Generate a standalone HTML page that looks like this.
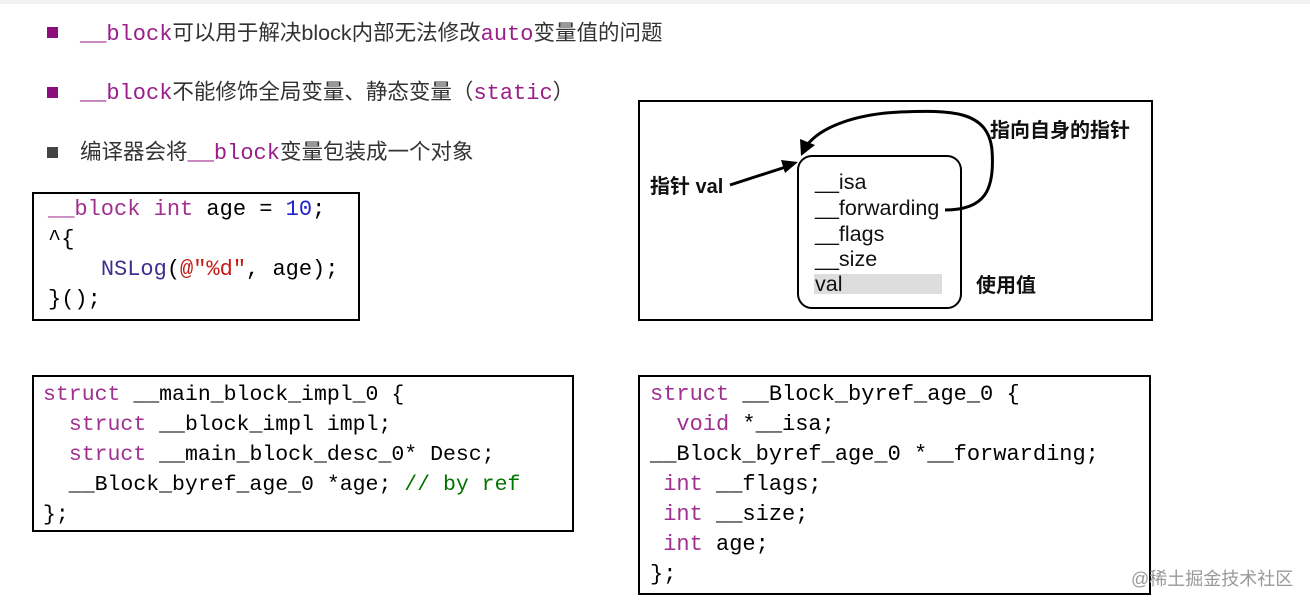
<!DOCTYPE html>
<html><head><meta charset="utf-8"><style>
body{margin:0;width:1310px;height:604px;background:#fff;position:relative;overflow:hidden;font-family:"Liberation Sans","Noto Sans CJK SC",sans-serif}
.b{position:absolute;left:47px;width:11px;height:11px;background:#8a0f7a}
.t{position:absolute;left:80px;font-size:21.5px;color:#333;white-space:nowrap;line-height:26px}
.m{font-family:"Liberation Mono",monospace;color:#9b1d8a;font-size:22px}
.box{position:absolute;border:2px solid #000;background:#fff}
pre{margin:0;font-family:"Liberation Mono","Noto Sans CJK SC",monospace;font-size:22px;line-height:30px;color:#000;position:absolute}
.k{color:#a0308f}.n{color:#2222cc}.s{color:#c41a16}.c{color:#007400}.f{color:#3e2e8e}
</style></head><body>
<div style="position:absolute;left:0;top:0;width:1310px;height:4px;background:#f2f2f2"></div>
<div class="b" style="top:27px"></div><div class="t" style="top:20px"><span class="m">__block</span>可以用于解决block内部无法修改<span class="m">auto</span>变量值的问题</div>
<div class="b" style="top:87px"></div><div class="t" style="top:79px"><span class="m">__block</span>不能修饰全局变量、静态变量（<span class="m">static</span>）</div>
<div class="b" style="top:147px;background:#444"></div><div class="t" style="top:139px">编译器会将<span class="m">__block</span>变量包装成一个对象</div>

<div class="box" style="left:32px;top:192px;width:324px;height:125px"><pre style="left:14px;top:1px"><span class="k">__block int</span> age = <span class="n">10</span>;
^{
    <span class="f">NSLog</span>(<span class="s">@"%d"</span>, age);
}();</pre></div>

<div class="box" style="left:32px;top:375px;width:538px;height:153px"><pre style="left:9px;top:3px;font-size:21.5px"><span class="k">struct</span> __main_block_impl_0 {
  <span class="k">struct</span> __block_impl impl;
  <span class="k">struct</span> __main_block_desc_0* Desc;
  __Block_byref_age_0 *age; <span class="c">// by ref</span>
};</pre></div>

<div class="box" style="left:638px;top:375px;width:509px;height:216px"><pre style="left:10px;top:3px"><span class="k">struct</span> __Block_byref_age_0 {
  <span class="k">void</span> *__isa;
__Block_byref_age_0 *__forwarding;
 <span class="k">int</span> __flags;
 <span class="k">int</span> __size;
 <span class="k">int</span> age;
};</pre></div>

<div class="box" style="left:638px;top:100px;width:511px;height:217px"></div>
<svg style="position:absolute;left:0;top:0" width="1310" height="604">
<rect x="798" y="156" width="163" height="152" rx="14" fill="none" stroke="#000" stroke-width="2"/>
<rect x="814" y="274" width="128" height="20" fill="#ddd"/>
<g font-family="Liberation Sans,Noto Sans CJK SC,sans-serif" font-size="21.5" fill="#111">
<text x="815" y="189">__isa</text><text x="815" y="215">__forwarding</text><text x="815" y="241">__flags</text><text x="815" y="266">__size</text><text x="815" y="291">val</text>
<text x="650" y="193" font-weight="bold" font-size="20">指针 val</text>
<text x="990" y="137" font-weight="bold" font-size="20">指向自身的指针</text>
<text x="976" y="292" font-weight="bold" font-size="20">使用值</text>
</g>
<path d="M730 185 L792 165" stroke="#000" stroke-width="3" fill="none"/>
<polygon points="798,162 781,160 785,173" fill="#000"/>
<path d="M945 210 C985 210 995 190 992 150 C988 110 950 110 900 112 C860 114 820 125 805 148" stroke="#000" stroke-width="3" fill="none"/>
<polygon points="801,156 800,139 815,145" fill="#000"/>
</svg>
<div style="position:absolute;left:1131px;top:565px;font-size:18px;color:#999">@稀土掘金技术社区</div>
</body></html>
